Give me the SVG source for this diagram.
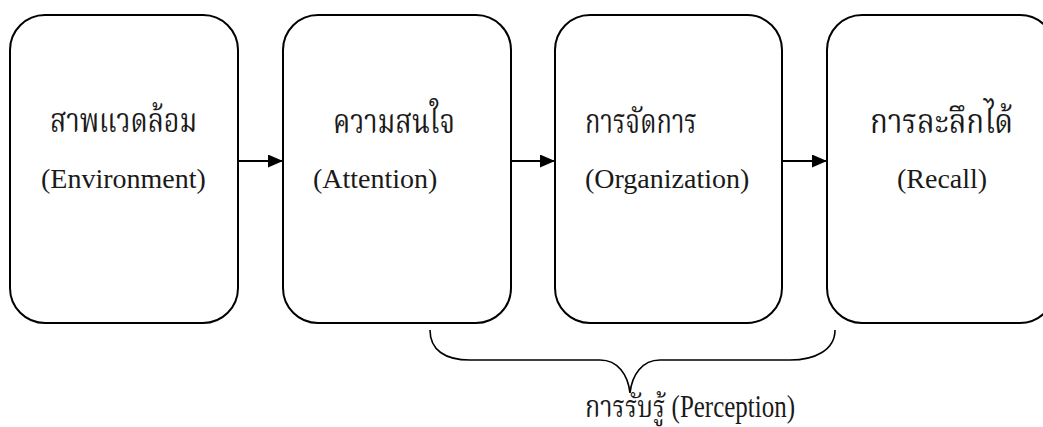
<svg xmlns="http://www.w3.org/2000/svg" width="1043" height="427" viewBox="0 0 1043 427">
<style>
.box{fill:#fff;stroke:#000;stroke-width:2}
.th{font-family:"Liberation Serif","Noto Serif Thai","Noto Sans Thai",serif;font-size:33px;fill:#1a1a1a}
.en{font-family:"Liberation Serif","Times New Roman",serif;font-size:28px;fill:#1a1a1a}
.pl{font-family:"Liberation Serif","Noto Serif Thai","Noto Sans Thai",serif;font-size:31px;fill:#1a1a1a}
.conn{stroke:#000;stroke-width:2;fill:none}
.brace{stroke:#000;stroke-width:1.6;fill:none}
</style>
<defs>
<marker id="ah" viewBox="0 0 15 13" refX="15" refY="6.5" markerWidth="15" markerHeight="13" markerUnits="userSpaceOnUse" orient="auto">
<path d="M0,0 L15,6.5 L0,13 Z" fill="#000"/>
</marker>
</defs>
<rect width="1043" height="427" fill="#fff"/>
<g id="env">
<rect class="box" x="10" y="15" width="228" height="308" rx="35" ry="35"/>
<text class="th" x="50" y="132" textLength="147" lengthAdjust="spacingAndGlyphs">สาพแวดล้อม</text>
<text class="en" x="41" y="188">(Environment)</text>
</g>
<g id="attention">
<rect class="box" x="283" y="15" width="228" height="308" rx="35" ry="35"/>
<text class="th" x="333" y="133" textLength="122" lengthAdjust="spacingAndGlyphs">ความสนใจ</text>
<text class="en" x="313" y="188">(Attention)</text>
</g>
<g id="organization">
<rect class="box" x="555" y="15" width="227" height="308" rx="35" ry="35"/>
<text class="th" x="585" y="133" textLength="112" lengthAdjust="spacingAndGlyphs">การจัดการ</text>
<text class="en" x="585" y="188">(Organization)</text>
</g>
<g id="recall">
<rect class="box" x="827" y="15" width="228" height="308" rx="35" ry="35"/>
<text class="th" x="870" y="133" textLength="143" lengthAdjust="spacingAndGlyphs">การละลึกได้</text>
<text class="en" x="897" y="188">(Recall)</text>
</g>
<g id="perception">
<path class="brace" d="M430,330 C430,350 445,360 470,360 L600,360 C618,360 628,375 630,393 C632,375 642,360 660,360 L790,360 C815,360 835,350 835,330"/>
<text class="pl" x="585" y="417" textLength="210" lengthAdjust="spacingAndGlyphs">การรับรู้ (Perception)</text>
</g>
<g id="connectors">
<line class="conn" x1="238" y1="161" x2="283" y2="161" marker-end="url(#ah)"/>
<line class="conn" x1="511" y1="161" x2="555" y2="161" marker-end="url(#ah)"/>
<line class="conn" x1="782" y1="161" x2="827" y2="161" marker-end="url(#ah)"/>
</g>
</svg>
